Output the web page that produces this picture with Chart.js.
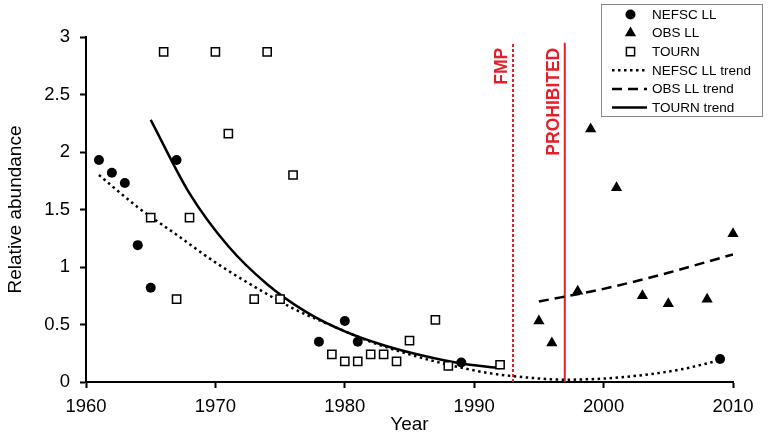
<!DOCTYPE html>
<html>
<head>
<meta charset="utf-8">
<script src="https://cdn.jsdelivr.net/npm/chart.js@4.4.1/dist/chart.umd.min.js"></script>
<style>
  html, body { margin: 0; padding: 0; background: #fff; }
  #wrap { width: 768px; height: 436px; position: relative; }
</style>
</head>
<body>
<div id="wrap"><canvas id="chart"></canvas></div>
<script>
// observed series
const nefscYears = [1961, 1962, 1963, 1964, 1965, 1967, 1978, 1980, 1981, 1989, 2009];
const nefscValues = [1.93, 1.82, 1.73, 1.19, 0.82, 1.93, 0.35, 0.53, 0.35, 0.17, 0.20];

const obsYears = [1995, 1996, 1998, 1999, 2001, 2003, 2005, 2008, 2010];
const obsValues = [0.53, 0.34, 0.79, 2.20, 1.69, 0.75, 0.68, 0.72, 1.29];

const tournYears = [1965, 1966, 1967, 1968, 1970, 1971, 1973, 1974, 1975, 1976,
  1979, 1980, 1981, 1982, 1983, 1984, 1985, 1987, 1988, 1992];
const tournValues = [1.43, 2.87, 0.72, 1.43, 2.87, 2.16, 0.72, 2.87, 0.72, 1.80,
  0.24, 0.18, 0.18, 0.24, 0.24, 0.18, 0.36, 0.54, 0.14, 0.15];

// trend curves
const nefscTrendYears = [1961, 1964, 1967, 1970, 1973, 1976, 1979, 1982, 1985, 1988, 1991, 1994, 1997, 2000, 2003, 2006, 2009];
const nefscTrendValues = [1.80, 1.52, 1.28, 1.04, 0.83, 0.64, 0.49, 0.35, 0.24, 0.15, 0.08, 0.04, 0.02, 0.03, 0.06, 0.11, 0.19];

const obsTrendYears = [1995, 2000, 2005, 2010];
const obsTrendValues = [0.70, 0.81, 0.95, 1.11];

const tournTrendYears = [1965, 1968, 1971, 1974, 1977, 1980, 1983, 1986, 1989, 1992];
const tournTrendValues = [2.28, 1.64, 1.18, 0.85, 0.61, 0.44, 0.32, 0.23, 0.16, 0.12];

// management events
const regYears = [1993, 1997];
const regLabels = ["FMP", "PROHIBITED"];
const regTop = 2.95;

const xTicks = [1960, 1970, 1980, 1990, 2000, 2010];
const yTicks = [0, 0.5, 1, 1.5, 2, 2.5, 3];

const FONT = '"Liberation Sans", Arial, sans-serif';
const RED = "#e3202a";

const pts = (xs, ys) => xs.map((v, i) => ({ x: v, y: ys[i] }));

Chart.defaults.font.family = FONT;
Chart.defaults.color = "#000";

const datasets = [
  {
    label: "NEFSC LL",
    data: pts(nefscYears, nefscValues),
    showLine: false,
    pointStyle: "circle",
    pointRadius: 5,
    backgroundColor: "#000",
    borderColor: "#000",
    pointBorderWidth: 0,
    clip: false,
  },
  {
    label: "OBS LL",
    data: pts(obsYears, obsValues),
    showLine: false,
    pointStyle: "triangle",
    pointRadius: 6.5,
    backgroundColor: "#000",
    borderColor: "#000",
    pointBorderWidth: 0,
    clip: false,
  },
  {
    label: "TOURN",
    data: pts(tournYears, tournValues),
    showLine: false,
    pointStyle: "rect",
    pointRadius: 5.8,
    backgroundColor: "#fff",
    borderColor: "#000",
    pointBorderWidth: 1.5,
    clip: false,
  },
  {
    label: "NEFSC LL trend",
    data: pts(nefscTrendYears, nefscTrendValues),
    showLine: true,
    pointRadius: 0,
    borderColor: "#000",
    borderWidth: 2.5,
    borderDash: [2.5, 3.5],
    cubicInterpolationMode: "monotone",
  },
  {
    label: "OBS LL trend",
    data: pts(obsTrendYears, obsTrendValues),
    showLine: true,
    pointRadius: 0,
    borderColor: "#000",
    borderWidth: 2.5,
    borderDash: [10, 6],
    cubicInterpolationMode: "monotone",
  },
  {
    label: "TOURN trend",
    data: pts(tournTrendYears, tournTrendValues),
    showLine: true,
    pointRadius: 0,
    borderColor: "#000",
    borderWidth: 2.5,
    cubicInterpolationMode: "monotone",
  },
  {
    label: regLabels[0],
    data: [{ x: regYears[0], y: 0 }, { x: regYears[0], y: regTop }],
    showLine: true,
    pointRadius: 0,
    borderColor: RED,
    borderWidth: 2,
    borderDash: [3, 2],
  },
  {
    label: regLabels[1],
    data: [{ x: regYears[1], y: 0 }, { x: regYears[1], y: regTop }],
    showLine: true,
    pointRadius: 0,
    borderColor: RED,
    borderWidth: 2,
  },
];

// legend box + rotated red labels
const overlay = {
  id: "overlay",
  afterDatasetsDraw(chart) {
    const { ctx, scales: { x, y } } = chart;
    ctx.save();

    ctx.fillStyle = RED;
    ctx.font = "bold 17.5px " + FONT;
    ctx.textAlign = "right";
    ctx.textBaseline = "alphabetic";
    regYears.forEach((yr, i) => {
      ctx.save();
      ctx.translate(x.getPixelForValue(yr) - 6, y.getPixelForValue(regTop) + 5);
      ctx.rotate(-Math.PI / 2);
      ctx.fillText(regLabels[i], 0, 0);
      ctx.restore();
    });

    // legend
    ctx.fillStyle = "#fff";
    ctx.fillRect(601.5, 4.5, 161, 112);
    ctx.strokeStyle = "#888";
    ctx.lineWidth = 1;
    ctx.strokeRect(601.5, 4.5, 161, 112);

    ctx.font = "13.5px " + FONT;
    ctx.textAlign = "left";
    ctx.textBaseline = "middle";
    chart.data.datasets.slice(0, 6).forEach((ds, i) => {
      const cy = 14.5 + i * 18.6;
      if (ds.showLine) {
        ctx.strokeStyle = ds.borderColor;
        ctx.lineWidth = ds.borderWidth;
        ctx.setLineDash(ds.borderDash || []);
        ctx.beginPath();
        ctx.moveTo(612, cy);
        ctx.lineTo(647, cy);
        ctx.stroke();
        ctx.setLineDash([]);
      } else {
        ctx.fillStyle = ds.backgroundColor;
        ctx.strokeStyle = ds.borderColor;
        ctx.lineWidth = ds.pointBorderWidth;
        Chart.helpers.drawPoint(ctx, {
          pointStyle: ds.pointStyle,
          radius: ds.pointRadius,
          rotation: 0,
          borderWidth: ds.pointBorderWidth,
        }, 630.5, cy);
      }
      ctx.fillStyle = "#000";
      ctx.fillText(ds.label, 652, cy + 0.5);
    });

    ctx.restore();
  },
};

new Chart(document.getElementById("chart"), {
  type: "scatter",
  data: { datasets },
  options: {
    responsive: true,
    maintainAspectRatio: false,
    animation: false,
    layout: { padding: { top: 37, right: 35, left: 0, bottom: 0 } },
    plugins: {
      legend: { display: false },
      tooltip: { enabled: false },
    },
    scales: {
      x: {
        type: "linear",
        min: xTicks[0],
        max: xTicks[xTicks.length - 1],
        afterBuildTicks: (s) => { s.ticks = xTicks.map((v) => ({ value: v })); },
        afterFit: (s) => { s.height = 54; },
        ticks: {
          font: { size: 18.5 },
          color: "#000",
          padding: 8,
          maxRotation: 0,
          callback: (v) => String(v),
        },
        grid: { drawOnChartArea: false, drawTicks: true, tickLength: 6, tickWidth: 2, color: "#000" },
        border: { color: "#000", width: 2 },
        title: { display: true, text: "Year", font: { size: 19 }, color: "#000", padding: { top: 4, bottom: 0 } },
      },
      y: {
        type: "linear",
        min: yTicks[0],
        max: yTicks[yTicks.length - 1],
        afterBuildTicks: (s) => { s.ticks = yTicks.map((v) => ({ value: v })); },
        afterFit: (s) => { s.width = 86; },
        ticks: {
          font: { size: 18.5 },
          color: "#000",
          padding: 10,
          callback: (v) => String(v),
        },
        grid: { drawOnChartArea: false, drawTicks: true, tickLength: 6, tickWidth: 2, color: "#000" },
        border: { color: "#000", width: 2 },
        title: { display: true, text: "Relative abundance", font: { size: 19 }, color: "#000", padding: { top: 4, bottom: 4 } },
      },
    },
  },
  plugins: [overlay],
});
</script>
</body>
</html>
